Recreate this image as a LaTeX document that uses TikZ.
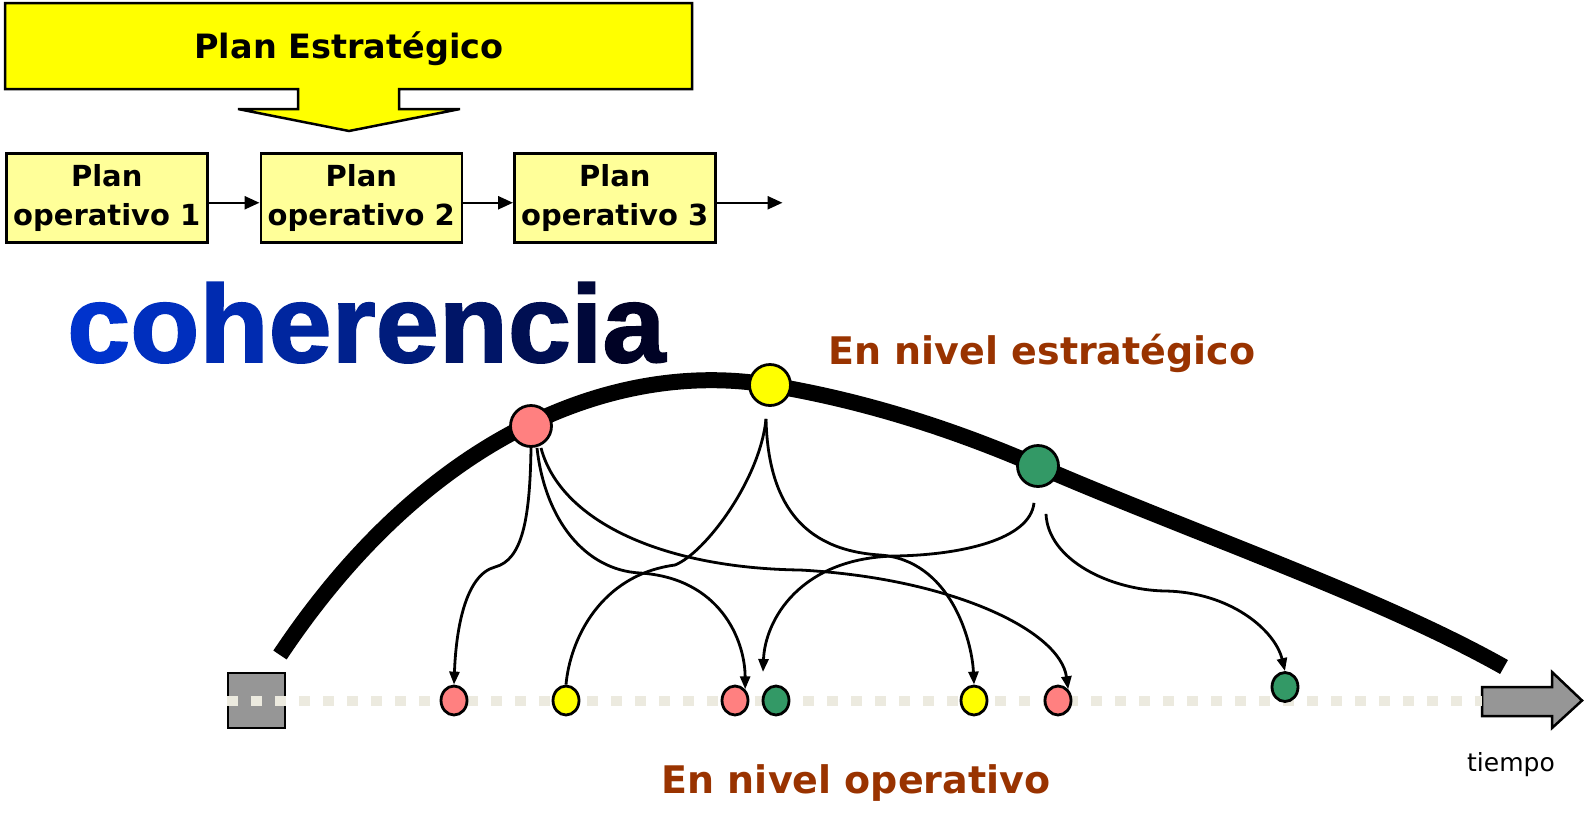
\documentclass[tikz,border=0pt]{standalone}
\usepackage{fontspec}
\usepackage{tikz}
\usetikzlibrary{positioning,arrows.meta,calc,backgrounds,shapes.geometric}
\newfontfamily\tahoma{DejaVu Sans}
\newfontfamily\arialbk[FakeBold=1.6]{Liberation Sans Bold}
\definecolor{pinkc}{RGB}{255,128,128}
\definecolor{yelc}{RGB}{255,255,0}
\definecolor{greenc}{RGB}{51,153,102}
\definecolor{paley}{RGB}{255,255,153}
\definecolor{brownc}{RGB}{153,51,0}
\definecolor{cohA}{RGB}{0,51,204}
\definecolor{cohB}{RGB}{0,0,30}
\definecolor{dashc}{RGB}{236,234,223}
\definecolor{greyc}{RGB}{150,150,150}

\begin{document}
\begin{tikzpicture}[x=1pt,y=-1pt,
                    opbox/.style={rectangle,draw=black,line width=2.5pt,fill=paley,minimum width=201pt,minimum height=89pt,inner sep=0pt,align=center,
                                  font=\tahoma\bfseries\fontsize{29}{38.5}\selectfont,execute at begin node={\rule{0pt}{29pt}}},
                    bigdot/.style={circle,draw=black,line width=2.8pt,minimum size=41pt,inner sep=0pt},
                    smalldot/.style={ellipse,draw=black,line width=2.8pt,minimum width=26pt,minimum height=29pt,inner sep=0pt},
                    link/.style={line width=2.8pt},
                    linkarr/.style={line width=2.8pt,-{Triangle[length=13pt,width=10pt]}},
                    oparr/.style={line width=2.5pt,-{Triangle[length=15pt,width=13pt]}},
                    level/.style={text=brownc,font=\tahoma\bfseries\fontsize{38}{40}\selectfont,inner sep=0pt,anchor=base}
                ]
    \useasboundingbox (0,0) rectangle (1585,831);

    \draw[line width=2.5pt,fill=yelc] (5,3) -- (692,3) -- (692,89) -- (399,89) -- (399,109) -- (460,109) -- (349,131)
        -- (238,109) -- (298,109) -- (298,89) -- (5,89) -- cycle;
    \node[font=\tahoma\bfseries\fontsize{33.5}{33.5}\selectfont,anchor=base,inner sep=0pt] (estr) at (349,58.6) {Plan Estratégico};

    \node[opbox,anchor=north west] (op1) at (5,152) {Plan\\operativo 1};
    \node[opbox,right=51pt of op1] (op2) {Plan\\operativo 2};
    \node[opbox,right=50pt of op2] (op3) {Plan\\operativo 3};
    \coordinate (opnext) at ($(op3.east)+(66,5)$);
    \draw[oparr] ($(op1.east)+(0,5)$) -- ($(op2.west)+(0,5)$);
    \draw[oparr] ($(op2.east)+(0,5)$) -- ($(op3.west)+(0,5)$);
    \draw[oparr] ($(op3.east)+(0,5)$) -- (opnext);

    \node[anchor=base west,inner sep=0pt,xscale=1.03,font=\arialbk\fontsize{110}{110}\selectfont] (coh) at (67,362)
        {\color{cohA!100!cohB}c\color{cohA!92!cohB}o\color{cohA!84!cohB}h\color{cohA!74!cohB}e\color{cohA!64!cohB}r\color{cohA!54!cohB}e\color{cohA!42!cohB}n\color{cohA!30!cohB}c\color{cohA!16!cohB}i\color{cohA!4!cohB}a};

    \node[level] (lvlE) at (1042,364) {En nivel estratégico};
    \node[level] (lvlO) at (856,793) {En nivel operativo};

    \node[bigdot,fill=pinkc] (Er) at (531,426) {};
    \node[bigdot,fill=yelc] (Ey) at (770,385) {};
    \node[bigdot,fill=greenc] (Eg) at (1038,466) {};
    \begin{scope}[on background layer]
        \draw[line width=16pt] (280,655) .. controls (430,430) and (620,360) .. (Ey.center)
            .. controls (860,400) and (948,427) .. (Eg.center) .. controls (1188,531) and (1380,597) .. (1504,667);
    \end{scope}

    \node[draw=black,line width=2.5pt,fill=greyc,minimum width=57pt,minimum height=55pt,inner sep=0pt] (tstart) at (256.5,700.5) {};
    \draw[line width=2.5pt,fill=greyc] (1482,687) -- (1552,687) -- (1552,672) -- (1582,700.5) -- (1552,728) -- (1552,716)
        -- (1482,716) -- cycle;
    \coordinate (tend) at (1482,700.5);
    \draw[dashc,line width=10pt,dash pattern=on 11pt off 13pt] (tstart.west) -- (tend);
    \node[font=\tahoma\fontsize{25}{25}\selectfont,inner sep=0pt] (tiempo) at (1511,765) {tiempo};

    \foreach \n/\x/\y/\c in {Or1/454/700.5/pinkc, Oy1/566/700.5/yelc, Or2/735/700.5/pinkc, Og1/776/700.5/greenc,
                            Oy2/974/700.5/yelc, Or3/1058/700.5/pinkc, Og2/1285/687/greenc}
        {
        \node[smalldot,fill=\c] (\n) at (\x,\y) {};
        }
    \coordinate (Og1end) at (763,672);

    \draw[linkarr] (Er.south) .. controls (530,520) and (522,560) .. (495,567) .. controls (465,575) and (456,630) .. (Or1.north);
    \draw[linkarr] ($(Er.south)+(6,0)$) .. controls (545,520) and (585,570) .. (640,573) .. controls (720,578) and (745,640) .. (Or2.north east);
    \draw[linkarr] ($(Er.south)+(10,0)$) .. controls (560,520) and (660,568) .. (800,570) .. controls (950,578) and (1060,630) .. (Or3.north east);
    \draw[link] ($(Ey.south)+(-4,12)$) .. controls (760,480) and (705,553) .. (675,565) .. controls (600,575) and (570,640) .. (Oy1.north);
    \draw[linkarr] ($(Ey.south)+(-4,12)$) .. controls (768,500) and (800,550) .. (880,555) .. controls (950,560) and (972,640) .. (Oy2.north);
    \draw[linkarr] ($(Eg.south)+(-4,15)$) .. controls (1030,540) and (960,555) .. (895,556) .. controls (800,558) and (765,620) .. (Og1end);
    \draw[linkarr] ($(Eg.south)+(8,26)$) .. controls (1048,560) and (1110,590) .. (1165,591) .. controls (1230,592) and (1275,630) .. (Og2.north);
\end{tikzpicture}
\end{document}
